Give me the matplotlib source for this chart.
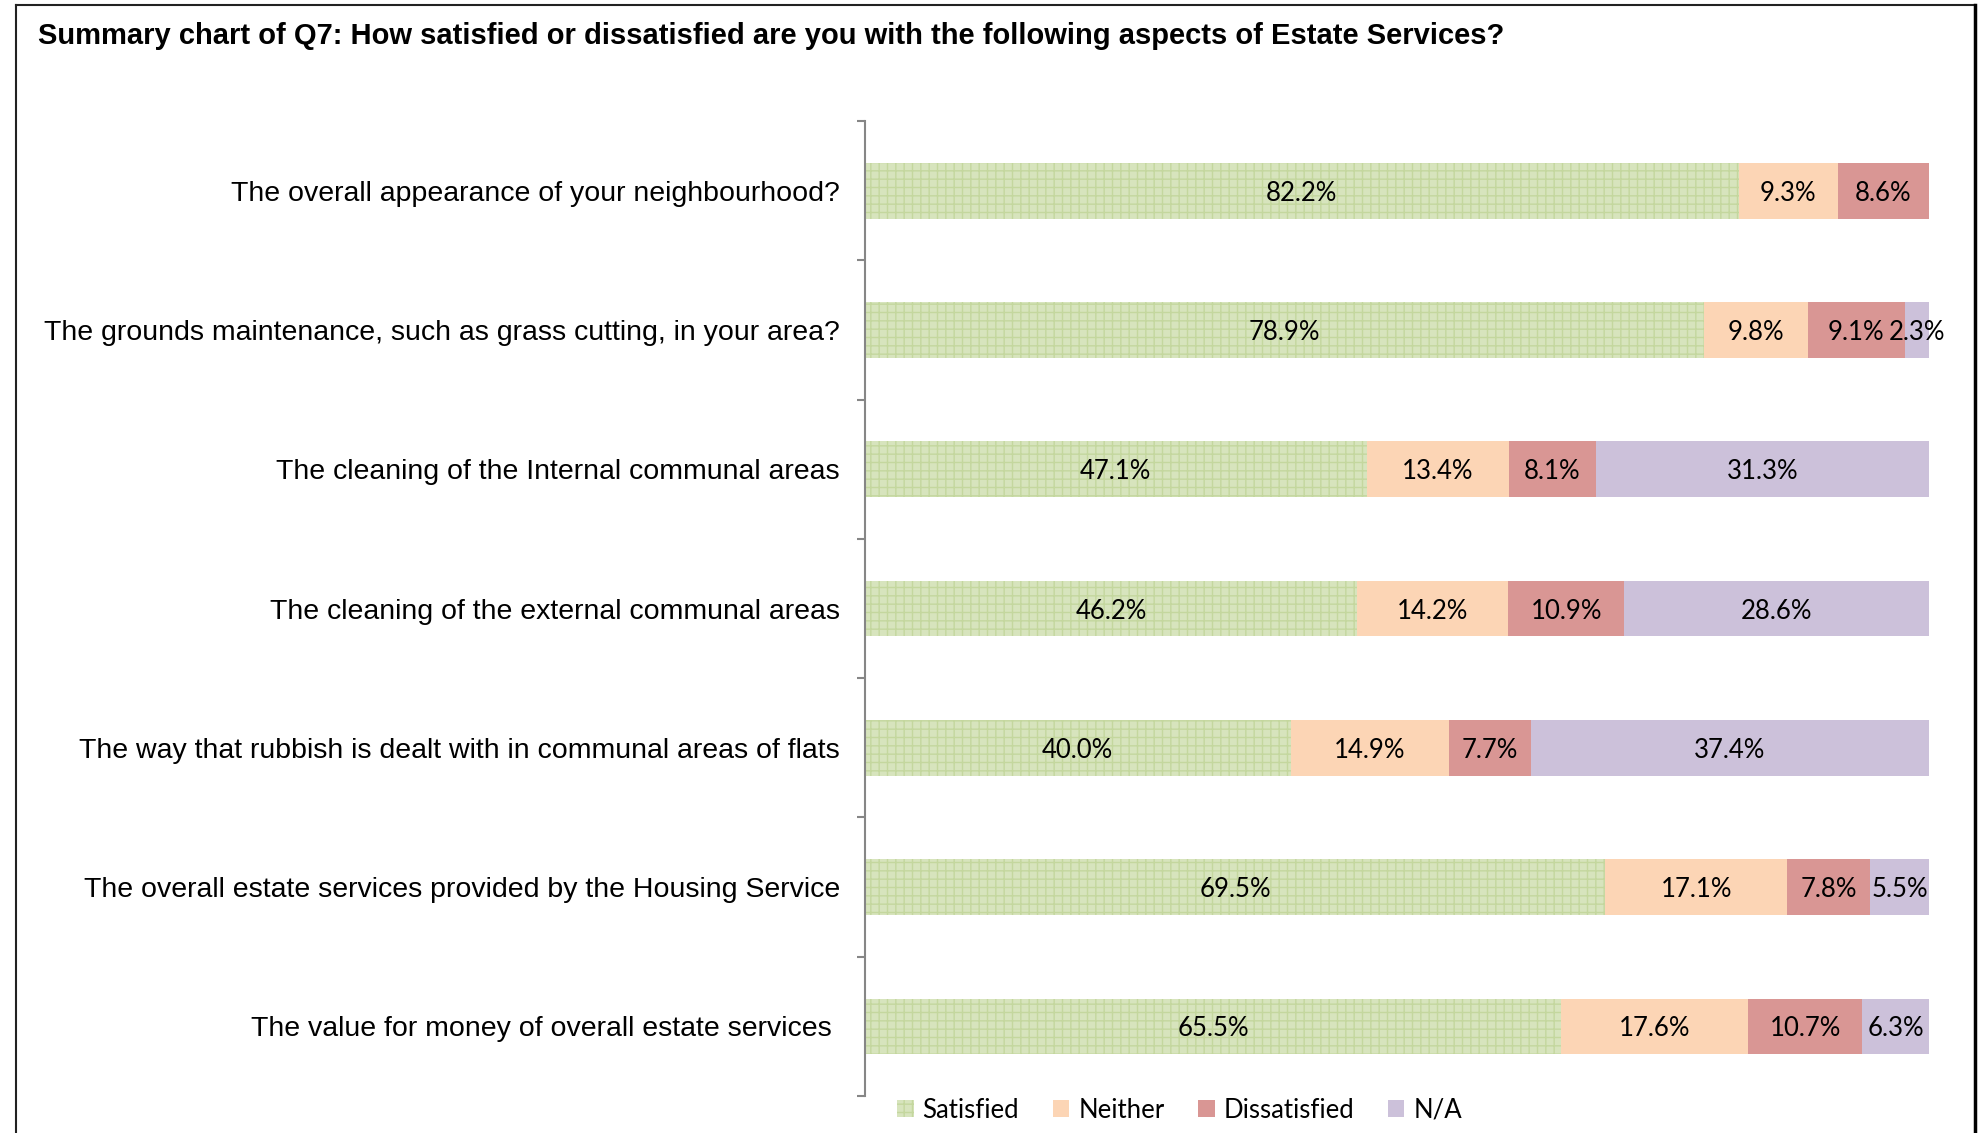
import matplotlib
matplotlib.use("Agg")
import matplotlib.pyplot as plt
import numpy as np
from matplotlib.patches import Patch
from matplotlib.lines import Line2D

categories = [
    "The overall appearance of your neighbourhood?",
    "The grounds maintenance, such as grass cutting, in your area?",
    "The cleaning of the Internal communal areas",
    "The cleaning of the external communal areas",
    "The way that rubbish is dealt with in communal areas of flats",
    "The overall estate services provided by the Housing Service",
    "The value for money of overall estate services ",
]
series_names = ["Satisfied", "Neither", "Dissatisfied", "N/A"]
satisfied = [82.2, 78.9, 47.1, 46.2, 40.0, 69.5, 65.5]
neither = [9.3, 9.8, 13.4, 14.2, 14.9, 17.1, 17.6]
dissatisfied = [8.6, 9.1, 8.1, 10.9, 7.7, 7.8, 10.7]
na = [0.0, 2.3, 31.3, 28.6, 37.4, 5.5, 6.3]

colors = ["#d7e4bd", "#fcd5b5", "#d99694", "#ccc1da"]

plt.rcParams['hatch.linewidth'] = 1.0

W, H = 1980, 1133
fig = plt.figure(figsize=(W / 100, H / 100), dpi=100)
ax = fig.add_axes([865 / W, 1 - 1096 / H, (1929 - 865) / W, (1096 - 121) / H])

data = np.array([satisfied, neither, dissatisfied, na])
totals = data.sum(axis=0)
pct = data / totals * 100

y = np.arange(len(categories))
left = np.zeros(len(categories))
for i, name in enumerate(series_names):
    if i == 0:
        bars = ax.barh(y, pct[i], left=left, height=0.4, color=colors[i],
                       edgecolor="#c4d79e", hatch="++", linewidth=0, label=name)
    else:
        bars = ax.barh(y, pct[i], left=left, height=0.4, color=colors[i],
                       linewidth=0, label=name)
    for j, b in enumerate(bars):
        v = data[i][j]
        if v > 0:
            ax.text(left[j] + pct[i][j] / 2, y[j], f"{v:.1f}%", ha="center", va="center_baseline",
                    fontsize=18.5, family=["Lato", "DejaVu Sans"], color="black")
    left += pct[i]

ax.set_xlim(0, 100)
ax.set_ylim(len(categories) - 0.5, -0.5)
ax.set_yticks(y)
ax.set_yticklabels(categories, fontsize=20.5, family=["Liberation Sans", "DejaVu Sans"])
ax.tick_params(axis="y", which="major", length=0, pad=18)
ax.set_yticks(np.arange(-0.5, len(categories) + 0.5, 1), minor=True)
ax.tick_params(axis="y", which="minor", length=6, width=1.5, color="#868686", direction="out")
ax.set_xticks([])
for s in ["top", "right", "bottom"]:
    ax.spines[s].set_visible(False)
ax.spines["left"].set_color("#868686")
ax.spines["left"].set_linewidth(1.5)

fig.text(38 / W, 1 - 36 / H, "Summary chart of Q7: How satisfied or dissatisfied are you with the following aspects of Estate Services?",
         fontsize=21, fontweight="bold", family=["Liberation Sans", "DejaVu Sans"], ha="left", va="center")

handles = [Patch(facecolor=colors[0], edgecolor="#c4d79e", hatch="++", linewidth=0)] + \
          [Patch(facecolor=c, linewidth=0) for c in colors[1:]]
fig.legend(handles, series_names, loc="center left", bbox_to_anchor=(884 / W, 1 - 1110 / H),
           ncol=4, frameon=False, prop={"family": "Lato", "size": 18.5}, borderpad=0,
           handlelength=0.65, handleheight=0.65, handletextpad=0.35, columnspacing=1.3)

# outer frame
fig.add_artist(Line2D([16 / W, 16 / W], [0, 1 - 5 / H], transform=fig.transFigure, color="#222222", lw=1.5))
fig.add_artist(Line2D([16 / W, 1975 / W], [1 - 5 / H, 1 - 5 / H], transform=fig.transFigure, color="#222222", lw=1.5))
fig.add_artist(Line2D([1975 / W, 1975 / W], [0, 1 - 5 / H], transform=fig.transFigure, color="#000000", lw=2.5))

fig.savefig("out.png", dpi=100)
